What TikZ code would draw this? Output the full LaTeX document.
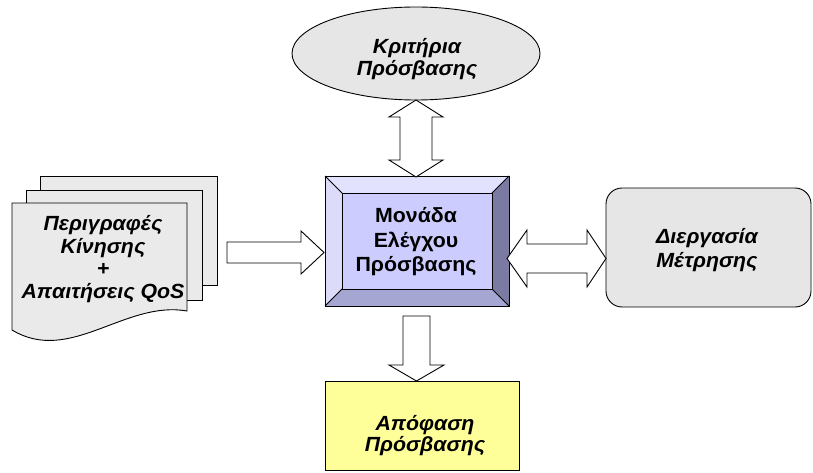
\documentclass[tikz,border=0pt]{standalone}
\usepackage{fontspec}
\setmainfont{Liberation Sans}
\newfontfamily\lblfont{Liberation Sans}[FakeStretch=1.04]
\usetikzlibrary{shapes.geometric,calc}

\definecolor{paper}{HTML}{EAEAEA}
\definecolor{softgray}{HTML}{E6E6E6}
\definecolor{notepad}{HTML}{FFFF99}
\definecolor{faceblue}{HTML}{CCCCFF}
\definecolor{bevtop}{HTML}{E2E2FF}
\definecolor{bevleft}{HTML}{DCDCFA}
\definecolor{bevright}{HTML}{7A7AA2}
\definecolor{bevbottom}{HTML}{A6A6D2}

\tikzset{
  outline/.style={draw=black, line width=0.9pt, line join=miter},
  blockarrow/.style={outline, fill=white},
  boxlabel/.style={font=\lblfont\bfseries\itshape\fontsize{20.5}{22}\selectfont, align=center, inner sep=0pt},
  plainlabel/.style={font=\lblfont\bfseries\fontsize{20.5}{24.5}\selectfont, align=center, inner sep=0pt},
  panel/.style={outline, inner sep=0pt, outer sep=0pt}
}

\begin{document}
\begin{tikzpicture}[x=1pt,y=-1pt]
\useasboundingbox (0,0) rectangle (813,473);

% --- access criteria (ellipse)
\node[panel, ellipse, fill=softgray, minimum width=248pt, minimum height=93pt] (crit) at (416,53.5) {};
\node[boxlabel] (critlbl) at (417,59) {Κριτήρια\\Πρόσβασης};

% --- stack of documents
\node[panel, fill=paper, minimum width=177pt, minimum height=109pt] (pageback) at (128.5,230.5) {};
\node[panel, fill=paper, minimum width=176pt, minimum height=110pt] (pagemid) at (114,245) {};
\draw[outline, fill=paper] (12,203) -- (187,203) -- (187,311)
  .. controls (125,300) and (70,365) .. (12,330) -- cycle;
\node[boxlabel, font=\lblfont\bfseries\itshape\fontsize{20.5}{22.7}\selectfont] (docs) at (103,259)
  {Περιγραφές\\Κίνησης\\+\\Απαιτήσεις QoS};

% --- access control unit (bevelled box)
\node[panel, fill=faceblue, minimum width=184pt, minimum height=130pt] (acu) at (417,241) {};
\coordinate (inw) at ($(acu.north west)+(17,17)$);
\coordinate (ine) at ($(acu.north east)+(-17,17)$);
\coordinate (ise) at ($(acu.south east)+(-17,-17)$);
\coordinate (isw) at ($(acu.south west)+(17,-17)$);
\fill[bevtop] (acu.north west) -- (acu.north east) -- (ine) -- (inw) -- cycle;
\fill[bevleft] (acu.north west) -- (inw) -- (isw) -- (acu.south west) -- cycle;
\fill[bevright] (acu.north east) -- (acu.south east) -- (ise) -- (ine) -- cycle;
\fill[bevbottom] (acu.south west) -- (isw) -- (ise) -- (acu.south east) -- cycle;
\draw[outline] (acu.north west) rectangle (acu.south east);
\draw[outline] (inw) rectangle (ise);
\draw[outline] (acu.north west) -- (inw) (acu.north east) -- (ine)
  (acu.south east) -- (ise) (acu.south west) -- (isw);
\node[plainlabel] (acultbl) at (416,242) {Μονάδα\\Ελέγχου\\Πρόσβασης};

% --- metering process (rounded box)
\node[panel, rounded corners=16pt, fill=softgray, minimum width=205pt, minimum height=119pt] (meas) at (708.5,247.5) {};
\node[boxlabel, font=\lblfont\bfseries\itshape\fontsize{20.5}{24}\selectfont] (measlbl) at (707,250) {Διεργασία\\Μέτρησης};

% --- access decision (yellow box)
\node[panel, fill=notepad, minimum width=194pt, minimum height=89pt] (dec) at (422,425.5) {};
\node[boxlabel, font=\lblfont\bfseries\itshape\fontsize{20.5}{21}\selectfont] (declbl) at (425,436) {Απόφαση\\Πρόσβασης};

% --- block arrows
% criteria <-> unit
\draw[blockarrow] (416,100) -- (443,117) -- (432,117) -- (432,160) -- (443,160) -- (416,177)
  -- (389,160) -- (400,160) -- (400,117) -- (389,117) -- cycle;
% documents -> unit
\draw[blockarrow] (227,242) -- (301,242) -- (301,231) -- (324,252.5) -- (301,274)
  -- (301,263) -- (227,263) -- cycle;
% unit <-> metering
\draw[blockarrow] (507,258.5) -- (527,230) -- (527,244) -- (587,244) -- (587,230) -- (606,258.5)
  -- (587,287) -- (587,273) -- (527,273) -- (527,287) -- cycle;
% unit -> decision
\draw[blockarrow] (403,316) -- (430,316) -- (430,365) -- (444,365) -- (416.5,381)
  -- (389,365) -- (403,365) -- cycle;
\end{tikzpicture}
\end{document}
